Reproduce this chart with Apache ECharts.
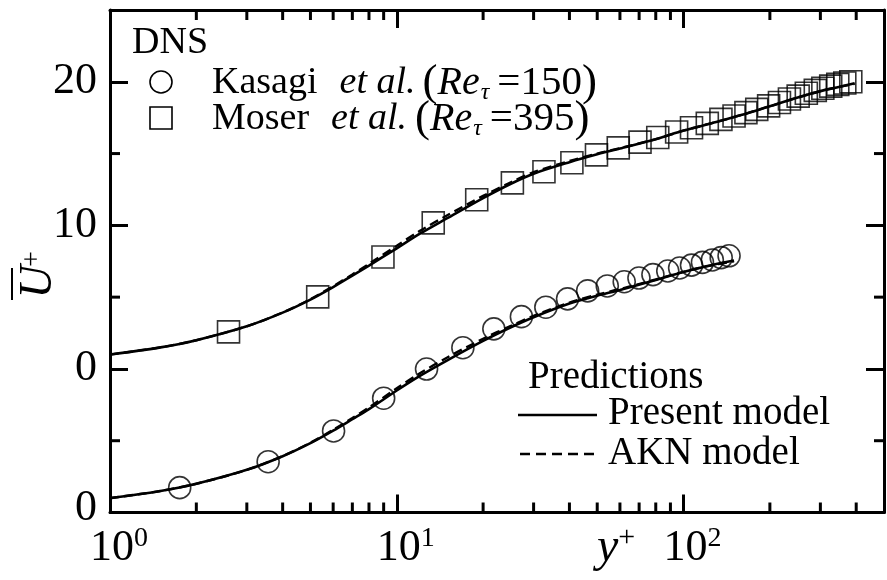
<!DOCTYPE html>
<html>
<head>
<meta charset="utf-8">
<script src="https://cdn.jsdelivr.net/npm/echarts@6/dist/echarts.min.js"></script>
<style>
html,body{margin:0;padding:0;background:#fff;}
#chart{width:887px;height:580px;}
</style>
</head>
<body>
<div id="chart"></div>
<script>
// ---- axis settings / tick values ----
const X_MIN = 1, X_MAX = 500;
const Y_MIN = -10, Y_MAX = 25;
const yMajorTicks = [-10, 0, 10, 20];
const yMinorTicks = [-5, 5, 15];
const xMinorTicks = [2, 3, 4, 5, 6, 7, 8, 9, 20, 30, 40, 50, 60, 70, 80, 90, 200, 300, 400];
// Kasagi profile is drawn shifted down by 10 (lower "0" label)
const KASAGI_SHIFT = -10;

// ---- DNS: Moser et al. (Re_tau = 395) ----
const moserYPlus = [2.59, 5.30, 8.95, 13.4, 19.0, 25.3, 32.6, 40.8, 49.7, 59.2, 70.5, 81.3, 94.6, 106.6, 121, 135, 150, 165, 180, 198, 216, 234, 251, 268, 288, 306, 326, 345, 365, 383];
const moserUPlus = [2.58, 5.02, 7.80, 10.17, 11.78, 12.96, 13.73, 14.36, 14.91, 15.40, 15.80, 16.12, 16.50, 16.80, 17.10, 17.38, 17.62, 17.85, 18.08, 18.32, 18.56, 18.80, 19.00, 19.20, 19.40, 19.55, 19.70, 19.82, 19.92, 20.00];

// ---- DNS: Kasagi et al. (Re_tau = 150) ----
const kasagiYPlus = [1.75, 3.56, 6.02, 9.0, 12.7, 17.0, 21.8, 27.2, 33.1, 39.4, 46.3, 54.2, 62.1, 69.9, 78.2, 88.1, 96.9, 106.6, 116.4, 126, 135.3, 144.1];
const kasagiUPlus = [1.73, 3.54, 5.68, 7.96, 9.99, 11.48, 12.79, 13.64, 14.30, 14.88, 15.44, 15.78, 16.07, 16.33, 16.57, 16.82, 17.03, 17.23, 17.42, 17.59, 17.75, 17.88];

// ---- predictions, Re_tau = 395 ----
const modelYPlus395 = [1, 1.5, 2, 3, 4, 5, 6, 7, 8, 10, 12, 15, 20, 25, 30, 40, 50, 60, 80, 100, 130, 160, 200, 250, 300, 350, 395];
const present395 = [1.0, 1.5, 2.0, 2.97, 3.92, 4.83, 5.70, 6.50, 7.20, 8.40, 9.40, 10.50, 11.90, 12.90, 13.60, 14.40, 14.95, 15.35, 16.00, 16.60, 17.20, 17.70, 18.30, 18.90, 19.35, 19.65, 19.90];
const akn395     = [1.0, 1.5, 2.0, 2.97, 3.93, 4.86, 5.76, 6.58, 7.32, 8.58, 9.60, 10.70, 12.05, 13.00, 13.70, 14.48, 15.00, 15.38, 16.00, 16.60, 17.20, 17.70, 18.30, 18.90, 19.35, 19.65, 19.85];

// ---- predictions, Re_tau = 150 ----
const modelYPlus150 = [1, 1.5, 2, 3, 4, 5, 6, 7, 8, 10, 12, 15, 20, 25, 30, 40, 50, 60, 80, 100, 120, 150];
const present150 = [1.0, 1.5, 2.0, 2.97, 3.92, 4.83, 5.70, 6.50, 7.20, 8.50, 9.50, 10.60, 11.95, 12.90, 13.60, 14.55, 15.10, 15.50, 16.20, 16.75, 17.15, 17.55];
const akn150     = [1.0, 1.5, 2.0, 2.97, 3.93, 4.86, 5.76, 6.58, 7.32, 8.65, 9.68, 10.80, 12.10, 13.00, 13.70, 14.62, 15.18, 15.56, 16.23, 16.76, 17.14, 17.50];

const SERIF = '"Liberation Serif", "Times New Roman", serif';
const pair = (xs, ys, shift) => xs.map((x, i) => [x, ys[i] + (shift || 0)]);

const chart = echarts.init(document.getElementById('chart'), null, {renderer: 'canvas'});

const lineW = 2.6;
const axisCommon = {
  axisLine: {show: true, onZero: false, lineStyle: {color: '#000', width: 3}},
  splitLine: {show: false},
  axisTick: {show: true, inside: true, length: 18, lineStyle: {color: '#000', width: 3}}
};

function legendRow(name, re, padName, padEtAl) {
  return {
    text: '{n|' + name + '}{ip|et al.}{p|(}{i|Re}{s|τ}{m|=' + re + '}{p|)}',
    rich: {
      n: {fontSize: 38, fontFamily: SERIF, lineHeight: 44},
      ip: {fontSize: 38, fontFamily: SERIF, fontStyle: 'italic', lineHeight: 44, padding: [0, padEtAl, 0, padName]},
      i: {fontSize: 40, fontFamily: SERIF, fontStyle: 'italic', lineHeight: 44},
      p: {fontSize: 45, fontFamily: SERIF, lineHeight: 44},
      s: {fontSize: 24, fontFamily: SERIF, fontStyle: 'italic', lineHeight: 24, verticalAlign: 'bottom', padding: [0, 0, 0, 1]},
      m: {fontSize: 41, fontFamily: SERIF, lineHeight: 44, padding: [0, 0, 0, 8]}
    }
  };
}

const row1 = legendRow('Kasagi', '150', 22, 7);
const row2 = legendRow('Moser', '395', 22, 8);

const option = {
  animation: false,
  backgroundColor: '#fff',
  grid: {left: 110, top: 10, right: -6, bottom: 67.5, containLabel: false},
  xAxis: [
    Object.assign({
      type: 'log', logBase: 10, min: X_MIN, max: X_MAX, position: 'bottom',
      axisLabel: {
        show: true, margin: 12, color: '#000', padding: [0, 0, 0, 18],
        formatter: v => {
          if (v > 200) return '';
          const e = Math.round(Math.log10(v));
          return '{b|10}{s|' + e + '}';
        },
        rich: {
          b: {fontSize: 44, fontFamily: SERIF, color: '#000', lineHeight: 48},
          s: {fontSize: 28, fontFamily: SERIF, color: '#000', lineHeight: 30, verticalAlign: 'top'}
        }
      }
    }, axisCommon),
    Object.assign({
      type: 'log', logBase: 10, min: X_MIN, max: X_MAX, position: 'top',
      axisLabel: {show: false}
    }, axisCommon)
  ],
  yAxis: [
    Object.assign({
      type: 'value', min: Y_MIN, max: Y_MAX, interval: 10, position: 'left',
      axisLabel: {
        show: true, margin: 13, color: '#000', fontSize: 44, fontFamily: SERIF,
        formatter: v => {
          if (yMajorTicks.indexOf(v) < 0) return '';
          if (v === Y_MIN) return '{d|0}';
          return String(v);
        },
        rich: {d: {fontSize: 44, fontFamily: SERIF, color: '#000', padding: [0, 0, 8, 0]}}
      }
    }, axisCommon),
    Object.assign({
      type: 'value', min: Y_MIN, max: Y_MAX, interval: 10, position: 'right',
      axisLabel: {show: false}
    }, axisCommon)
  ],
  series: [
    {
      name: 'Moser et al. (Re_tau=395)', type: 'scatter', symbol: 'rect', symbolSize: 22,
      data: pair(moserYPlus, moserUPlus),
      itemStyle: {color: 'rgba(0,0,0,0)', borderColor: '#000', borderWidth: 1.6}, z: 2
    },
    {
      name: 'Kasagi et al. (Re_tau=150)', type: 'scatter', symbol: 'circle', symbolSize: 22,
      data: pair(kasagiYPlus, kasagiUPlus, KASAGI_SHIFT),
      itemStyle: {color: 'rgba(0,0,0,0)', borderColor: '#000', borderWidth: 1.6}, z: 2
    },
    {
      name: 'AKN model', type: 'line', data: pair(modelYPlus395, akn395), smooth: 0.3,
      showSymbol: false, symbol: 'none', lineStyle: {color: '#000', width: 2.4, type: [9, 5]}, z: 3
    },
    {
      name: 'AKN model', type: 'line', data: pair(modelYPlus150, akn150, KASAGI_SHIFT), smooth: 0.3,
      showSymbol: false, symbol: 'none', lineStyle: {color: '#000', width: 2.4, type: [9, 5]}, z: 3
    },
    {
      name: 'Present model', type: 'line', data: pair(modelYPlus395, present395), smooth: 0.3,
      showSymbol: false, symbol: 'none', lineStyle: {color: '#000', width: lineW}, z: 4
    },
    {
      name: 'Present model', type: 'line', data: pair(modelYPlus150, present150, KASAGI_SHIFT), smooth: 0.3,
      showSymbol: false, symbol: 'none', lineStyle: {color: '#000', width: lineW}, z: 4
    },
    {
      // minor ticks on bottom and top x axes
      type: 'custom', coordinateSystem: 'cartesian2d', silent: true, z: 6,
      data: xMinorTicks.map(v => [v, Y_MIN]),
      renderItem: (params, api) => {
        const v = api.value(0);
        const b = api.coord([v, Y_MIN]);
        const t = api.coord([v, Y_MAX]);
        const st = {stroke: '#000', lineWidth: 3};
        return {type: 'group', children: [
          {type: 'line', shape: {x1: b[0], y1: b[1], x2: b[0], y2: b[1] - 10}, style: st},
          {type: 'line', shape: {x1: t[0], y1: t[1], x2: t[0], y2: t[1] + 10}, style: st}
        ]};
      }
    },
    {
      // minor ticks on left and right y axes
      type: 'custom', coordinateSystem: 'cartesian2d', silent: true, z: 6,
      data: yMinorTicks.map(v => [X_MIN, v]),
      renderItem: (params, api) => {
        const v = api.value(1);
        const l = api.coord([X_MIN, v]);
        const r = api.coord([X_MAX, v]);
        const st = {stroke: '#000', lineWidth: 3};
        return {type: 'group', children: [
          {type: 'line', shape: {x1: l[0], y1: l[1], x2: l[0] + 10, y2: l[1]}, style: st},
          {type: 'line', shape: {x1: r[0], y1: r[1], x2: r[0] - 10, y2: r[1]}, style: st}
        ]};
      }
    }
  ],
  graphic: [
    // DNS legend
    {type: 'text', style: {x: 132, y: 43.5, text: 'DNS', fontSize: 38, fontFamily: SERIF, fill: '#000', verticalAlign: 'middle'}},
    {type: 'circle', shape: {cx: 161, cy: 82, r: 11}, style: {fill: 'none', stroke: '#000', lineWidth: 1.6}},
    {type: 'rect', shape: {x: 150, y: 107, width: 22, height: 22}, style: {fill: 'none', stroke: '#000', lineWidth: 1.6}},
    {type: 'text', style: {x: 212, y: 83, verticalAlign: 'middle', fill: '#000', fontSize: 38, fontFamily: SERIF, text: row1.text, rich: row1.rich}},
    {type: 'text', style: {x: 212, y: 119, verticalAlign: 'middle', fill: '#000', fontSize: 38, fontFamily: SERIF, text: row2.text, rich: row2.rich}},
    // Predictions legend
    {type: 'text', style: {x: 528, y: 377.5, text: 'Predictions', fontSize: 39, fontFamily: SERIF, fill: '#000', verticalAlign: 'middle'}},
    {type: 'line', shape: {x1: 518, y1: 415, x2: 597, y2: 415}, style: {stroke: '#000', lineWidth: lineW}},
    {type: 'text', style: {x: 608, y: 414, text: 'Present model', fontSize: 39, fontFamily: SERIF, fill: '#000', verticalAlign: 'middle'}},
    {type: 'line', shape: {x1: 520, y1: 454, x2: 597, y2: 454}, style: {stroke: '#000', lineWidth: 2.4, lineDash: [10, 6]}},
    {type: 'text', style: {x: 608, y: 454, text: 'AKN model', fontSize: 39, fontFamily: SERIF, fill: '#000', verticalAlign: 'middle'}},
    // y axis title: overlined U+
    {type: 'group', x: 38.5, y: 282, rotation: Math.PI / 2, children: [
      {type: 'text', style: {x: 0, y: 0, text: 'U', fontSize: 46, fontStyle: 'italic', fontFamily: SERIF, fill: '#000', align: 'center', verticalAlign: 'middle'}},
      {type: 'text', style: {x: 23, y: -6, text: '+', fontSize: 28, fontFamily: SERIF, fill: '#000', align: 'center', verticalAlign: 'middle'}},
      {type: 'line', shape: {x1: -18, y1: -26.5, x2: 14, y2: -26.5}, style: {stroke: '#000', lineWidth: 2}}
    ]},
    // x axis title: y+
    {type: 'text', style: {
      x: 597, y: 548, verticalAlign: 'middle', fill: '#000', fontSize: 48, fontFamily: SERIF,
      text: '{i|y}{s|+}',
      rich: {
        i: {fontSize: 48, fontFamily: SERIF, fontStyle: 'italic', lineHeight: 50},
        s: {fontSize: 30, fontFamily: SERIF, lineHeight: 30, verticalAlign: 'top'}
      }
    }}
  ]
};

chart.setOption(option);
</script>
</body>
</html>
